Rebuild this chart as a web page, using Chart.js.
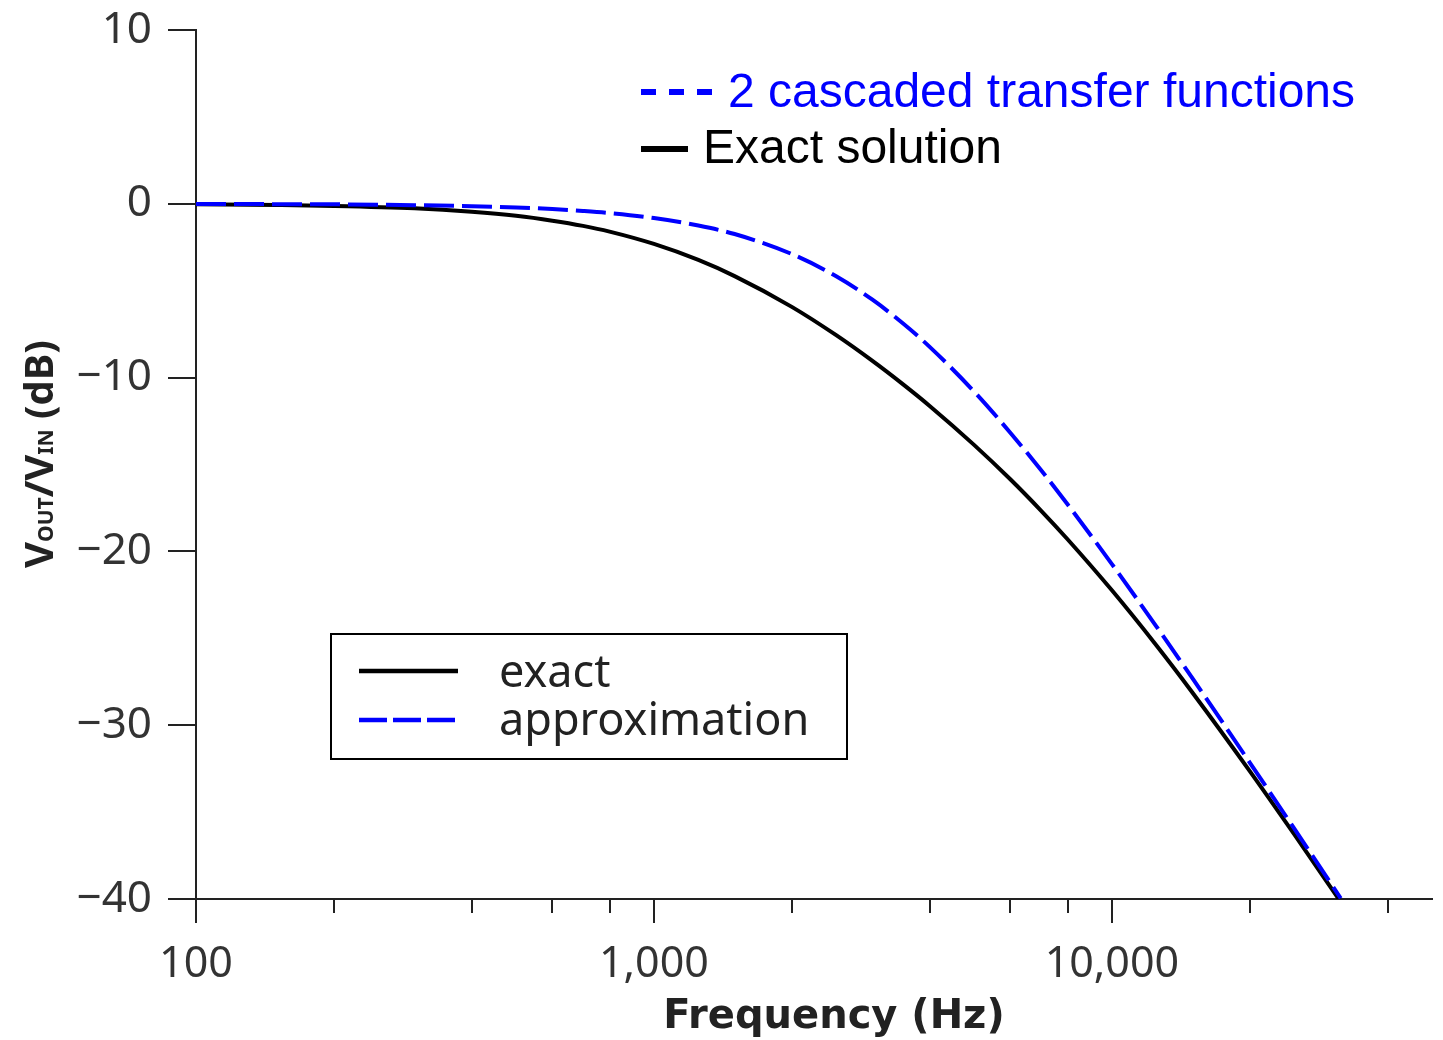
<!doctype html>
<html>
<head>
<meta charset="utf-8" />
<script src="https://cdn.jsdelivr.net/npm/chart.js@4.4.0/dist/chart.umd.min.js"></script>
<style>
  html, body { margin: 0; padding: 0; background: #fff; }
</style>
</head>
<body>
<canvas id="c" width="1443" height="1040"></canvas>
<script>
  // frequency response (Hz, dB)
  const freqs = [100, 150, 200, 300, 400, 500, 600, 700, 800, 1000, 1250, 1500, 2000, 2500,
    3000, 3500, 4000, 5000, 6000, 7000, 8000, 10000, 12500, 15000, 20000, 25000, 31600];
  const exactDb = [-0.03, -0.07, -0.12, -0.26, -0.46, -0.69, -0.97, -1.27, -1.60, -2.31, -3.23, -4.16,
    -5.93, -7.56, -9.04, -10.39, -11.63, -13.87, -15.85, -17.65, -19.30, -22.24, -25.40, -28.13,
    -32.64, -36.27, -40.17];
  const approxDb = [-0.01, -0.02, -0.03, -0.08, -0.14, -0.21, -0.30, -0.41, -0.53, -0.82, -1.25, -1.74,
    -2.89, -4.17, -5.52, -6.89, -8.23, -10.80, -13.17, -15.32, -17.29, -20.73, -24.31, -27.31,
    -32.15, -35.94, -39.96];

  const xTicks = [100, 200, 400, 600, 800, 1000, 2000, 4000, 6000, 8000, 10000, 20000, 40000];
  const xTickLabels = { 100: "100", 1000: "1,000", 10000: "10,000" };
  const yTicks = [10, 0, -10, -20, -30, -40];

  const AXIS = "#222";
  const TICK_TEXT = "#333";

  const toPoints = (ys) => freqs.map((f, i) => ({ x: f, y: ys[i] }));

  const decorations = {
    id: "decorations",
    afterDraw(chart) {
      const { ctx, scales: { x, y } } = chart;
      ctx.save();

      // x tick marks, long at decades
      ctx.strokeStyle = AXIS;
      ctx.lineWidth = 2;
      xTicks.forEach((v) => {
        const px = Math.round(x.getPixelForValue(v));
        const len = xTickLabels[v] ? 24 : 14;
        ctx.beginPath();
        ctx.moveTo(px, y.bottom);
        ctx.lineTo(px, y.bottom + len);
        ctx.stroke();
      });

      // x title
      ctx.fillStyle = AXIS;
      ctx.font = 'bold 40px "DejaVu Sans"';
      ctx.textAlign = "center";
      ctx.textBaseline = "alphabetic";
      ctx.fillText("Frequency (Hz)", 834, 1028);

      // y title with subscripts
      const parts = [
        ["V", 'bold 40px "Noto Sans"'],
        ["OUT", 'bold 21px "Noto Sans"'],
        ["/V", 'bold 40px "Noto Sans"'],
        ["IN", 'bold 21px "Noto Sans"'],
        [" (dB)", 'bold 40px "Noto Sans"'],
      ];
      let total = 0;
      parts.forEach(([t, f]) => { ctx.font = f; total += ctx.measureText(t).width; });
      ctx.translate(53, 454);
      ctx.rotate(-Math.PI / 2);
      ctx.textAlign = "left";
      let cx = -total / 2;
      parts.forEach(([t, f]) => {
        ctx.font = f;
        ctx.fillText(t, cx, 0);
        cx += ctx.measureText(t).width;
      });
      ctx.setTransform(1, 0, 0, 1, 0, 0);

      // annotation legend, top right
      ctx.lineWidth = 6;
      ctx.strokeStyle = "#0000ff";
      ctx.setLineDash([15, 13]);
      ctx.beginPath();
      ctx.moveTo(641, 92);
      ctx.lineTo(715, 92);
      ctx.stroke();
      ctx.setLineDash([]);
      ctx.strokeStyle = "#000";
      ctx.beginPath();
      ctx.moveTo(641, 149);
      ctx.lineTo(688, 149);
      ctx.stroke();
      ctx.font = '48px "Liberation Sans"';
      ctx.fillStyle = "#0000ff";
      ctx.fillText("2 cascaded transfer functions", 728, 107);
      ctx.fillStyle = "#000";
      ctx.fillText("Exact solution", 703, 163);

      // boxed legend
      ctx.lineWidth = 2;
      ctx.strokeStyle = "#000";
      ctx.strokeRect(331, 634, 516, 125);
      ctx.lineWidth = 4.5;
      ctx.beginPath();
      ctx.moveTo(359, 671);
      ctx.lineTo(458, 671);
      ctx.stroke();
      ctx.strokeStyle = "#0000ff";
      ctx.setLineDash([28, 6]);
      ctx.beginPath();
      ctx.moveTo(359, 720);
      ctx.lineTo(458, 720);
      ctx.stroke();
      ctx.setLineDash([]);
      ctx.fillStyle = AXIS;
      ctx.font = '45px "Noto Sans"';
      ctx.fillText("exact", 499, 687);
      ctx.fillText("approximation", 499, 735);

      ctx.restore();
    },
  };

  new Chart(document.getElementById("c"), {
    type: "line",
    data: {
      datasets: [
        {
          label: "exact",
          data: toPoints(exactDb),
          borderColor: "#000",
          borderWidth: 4,
          pointRadius: 0,
          cubicInterpolationMode: "monotone",
          order: 2,
        },
        {
          label: "approximation",
          data: toPoints(approxDb),
          borderColor: "#0000ff",
          borderWidth: 4,
          borderDash: [30, 8],
          pointRadius: 0,
          cubicInterpolationMode: "monotone",
          order: 1,
        },
      ],
    },
    options: {
      responsive: false,
      animation: false,
      devicePixelRatio: 1,
      layout: { padding: { top: 30, right: 11, left: 0, bottom: 0 } },
      plugins: { legend: { display: false }, tooltip: { enabled: false } },
      scales: {
        x: {
          type: "logarithmic",
          min: 100,
          max: 50000,
          afterBuildTicks: (s) => { s.ticks = xTicks.map((v) => ({ value: v })); },
          afterFit: (s) => { s.height = 141; s.paddingLeft = 0; s.paddingRight = 0; },
          grid: { display: false, drawTicks: false },
          border: { display: true, color: AXIS, width: 2 },
          ticks: {
            autoSkip: false,
            maxRotation: 0,
            padding: 40,
            color: TICK_TEXT,
            font: { family: "Noto Sans", size: 43 },
            callback: (v) => xTickLabels[v] || "",
          },
        },
        y: {
          min: -40,
          max: 10,
          afterBuildTicks: (s) => { s.ticks = yTicks.map((v) => ({ value: v })); },
          afterFit: (s) => { s.width = 196; s.paddingTop = 0; s.paddingBottom = 0; },
          grid: { display: true, drawOnChartArea: false, drawTicks: true, tickLength: 28, color: AXIS, lineWidth: 2 },
          border: { display: true, color: AXIS, width: 2 },
          ticks: {
            padding: 16,
            color: TICK_TEXT,
            font: { family: "Noto Sans", size: 44 },
            callback: (v) => (v < 0 ? "\u2212" + Math.abs(v) : String(v)),
          },
        },
      },
    },
    plugins: [decorations],
  });
</script>
</body>
</html>
